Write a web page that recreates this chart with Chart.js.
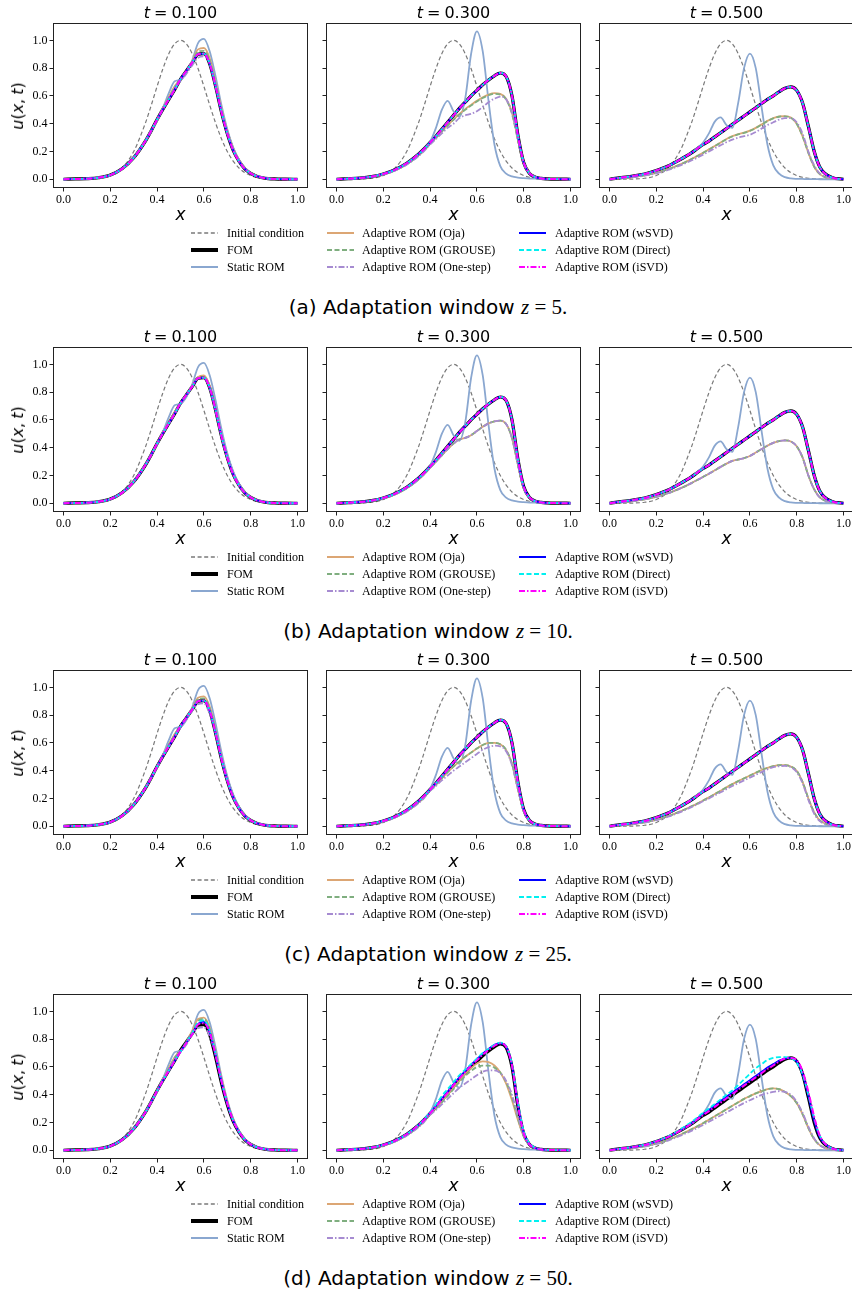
<!DOCTYPE html>
<html><head><meta charset="utf-8">
<script src="https://cdn.jsdelivr.net/npm/chart.js@4/dist/chart.umd.min.js"></script>
<style>
html,body{margin:0;padding:0;background:#fff;}
body{width:852px;height:1290px;position:relative;overflow:hidden;}
canvas{position:absolute;}
.t{position:absolute;white-space:nowrap;color:#000;}
.title{font-family:"DejaVu Sans";font-size:16px;line-height:16px;transform:translateX(-50%);}
.ylab{font-family:"DejaVu Sans";font-size:16px;line-height:16px;transform:translate(-50%,-50%) rotate(-90deg);}
.xlab{font-family:"DejaVu Sans";font-size:17px;line-height:16px;font-style:italic;transform:translate(-50%,-50%);}
.leg{font-family:"Liberation Serif";font-size:12px;line-height:16px;}
.cap{font-family:"DejaVu Sans";font-size:20px;line-height:20px;transform:translateX(-50%);}
.math{font-family:"Liberation Serif";font-size:21px;}
</style></head><body>
<script>
// ---------------- DATA ----------------
const X = [0, 0.05, 0.1, 0.15, 0.2, 0.25, 0.3, 0.35, 0.375, 0.4, 0.425, 0.45, 0.475, 0.5, 0.525, 0.55, 0.575, 0.6, 0.625, 0.65, 0.675, 0.7, 0.725, 0.75, 0.775, 0.8, 0.825, 0.85, 0.875, 0.9, 0.95, 1.0];
const X_TICKS = [0, 0.2, 0.4, 0.6, 0.8, 1.0];
const Y_TICKS = [0, 0.2, 0.4, 0.6, 0.8, 1.0];
const TIMES = ['0.100', '0.300', '0.500'];
const WINDOWS = ['5', '10', '25', '50'];
const LETTERS = ['a', 'b', 'c', 'd'];
const SERIES_NAMES = ['Initial condition', 'FOM', 'Static ROM', 'Adaptive ROM (Oja)', 'Adaptive ROM (GROUSE)', 'Adaptive ROM (One-step)', 'Adaptive ROM (wSVD)', 'Adaptive ROM (Direct)', 'Adaptive ROM (iSVD)'];

const INIT = [0, 0.0003, 0.0016, 0.0072, 0.027, 0.081, 0.200, 0.405, 0.533, 0.669, 0.797, 0.904, 0.975, 1.000, 0.975, 0.904, 0.797, 0.669, 0.533, 0.405, 0.292, 0.200, 0.131, 0.081, 0.048, 0.027, 0.0143, 0.0072, 0.0035, 0.0016, 0.0003, 0];

// t = 0.100
const FOM_T1 = [0, .002, .004, .011, .030, .075, .155, .275, .350, .430, .505, .575, .645, .720, .780, .840, .900, .905, .830, .670, .485, .330, .210, .130, .075, .042, .022, .011, .005, .002, .0003, 0];
const STATIC_T1 = [0, .002, .004, .011, .030, .075, .158, .278, .350, .425, .515, .62, .705, .715, .765, .855, .98, 1.01, .92, .74, .535, .36, .23, .14, .08, .045, .024, .012, .006, .003, .0005, 0];
const OJA_1_T1 = [0, .002, .004, .011, .030, .075, .155, .275, .350, .428, .51, .59, .67, .715, .775, .85, .935, .945, .87, .70, .51, .345, .22, .135, .078, .043, .023, .011, .005, .002, .0003, 0];
const GROUSE_1_T1 = [0, .002, .004, .011, .030, .075, .155, .275, .350, .428, .508, .585, .66, .715, .775, .845, .92, .925, .855, .69, .50, .34, .215, .133, .077, .043, .022, .011, .005, .002, .0003, 0];
const ONESTEP_1_T1 = [0, .002, .004, .011, .030, .074, .153, .272, .347, .425, .503, .578, .655, .708, .76, .82, .875, .885, .84, .685, .50, .335, .214, .132, .076, .042, .022, .011, .005, .002, .0003, 0];
const OJA_2_T1 = [0, .002, .004, .011, .030, .075, .155, .275, .350, .43, .508, .58, .655, .718, .78, .845, .91, .92, .845, .68, .495, .333, .212, .131, .076, .042, .022, .011, .005, .002, .0003, 0];
const OJA_3_T1 = [0, .002, .004, .011, .030, .075, .155, .275, .350, .43, .508, .585, .665, .718, .78, .848, .925, .935, .86, .69, .50, .337, .214, .132, .076, .042, .022, .011, .005, .002, .0003, 0];
const GROUSE_3_T1 = [0, .002, .004, .011, .030, .075, .155, .275, .350, .43, .506, .58, .655, .718, .78, .845, .915, .92, .85, .68, .495, .334, .212, .131, .076, .042, .022, .011, .005, .002, .0003, 0];
const ONESTEP_3_T1 = [0, .002, .004, .011, .030, .074, .153, .273, .348, .427, .503, .575, .65, .71, .77, .83, .88, .885, .81, .68, .495, .333, .212, .131, .076, .042, .022, .011, .005, .002, .0003, 0];
const OJA_4_T1 = [0, .002, .004, .011, .030, .075, .155, .275, .350, .43, .51, .59, .67, .715, .78, .86, .945, .955, .88, .71, .52, .35, .222, .136, .078, .043, .023, .011, .005, .002, .0003, 0];
const GROUSE_4_T1 = [0, .002, .004, .011, .030, .075, .155, .275, .350, .43, .508, .585, .665, .715, .778, .85, .93, .945, .87, .70, .51, .343, .218, .134, .077, .043, .022, .011, .005, .002, .0003, 0];
const ONESTEP_4_T1 = [0, .002, .004, .011, .030, .074, .153, .272, .347, .425, .503, .578, .655, .705, .76, .83, .88, .885, .82, .685, .50, .336, .214, .132, .076, .042, .022, .011, .005, .002, .0003, 0];
const WSVD_4_T1 = [0, .002, .004, .011, .030, .075, .154, .273, .348, .428, .503, .573, .643, .712, .775, .84, .91, .925, .85, .685, .495, .335, .213, .132, .076, .042, .022, .011, .005, .002, .0003, 0];
const DIRECT_4_T1 = [0, .002, .004, .011, .030, .075, .154, .273, .348, .428, .503, .573, .645, .71, .775, .845, .92, .935, .86, .695, .50, .338, .215, .133, .077, .043, .022, .011, .005, .002, .0003, 0];
const ISVD_4_T1 = [0, .002, .004, .011, .030, .075, .154, .273, .348, .428, .503, .573, .643, .71, .772, .835, .905, .915, .85, .685, .50, .337, .214, .132, .076, .042, .022, .011, .005, .002, .0003, 0];

// t = 0.300
const FOM_T3 = [0, .004, .009, .019, .038, .069, .115, .18, .22, .265, .31, .36, .41, .46, .51, .555, .60, .64, .68, .715, .745, .765, .74, .60, .32, .12, .042, .015, .006, .003, .001, 0];
const STATIC_T3 = [0, .004, .009, .019, .038, .069, .115, .18, .22, .27, .37, .50, .565, .49, .45, .58, .90, 1.065, .92, .56, .25, .095, .04, .02, .012, .008, .005, .004, .003, .002, .001, 0];
const OJA_1_T3 = [0, .004, .008, .017, .035, .064, .108, .17, .21, .255, .30, .345, .39, .43, .47, .505, .535, .565, .59, .61, .62, .615, .58, .48, .29, .12, .045, .016, .006, .003, .001, 0];
const GROUSE_1_T3 = [0, .004, .008, .017, .035, .064, .108, .17, .21, .255, .298, .342, .387, .428, .465, .50, .53, .56, .585, .605, .615, .61, .575, .47, .285, .115, .043, .016, .006, .003, .001, 0];
const ONESTEP_1_T3 = [0, .004, .008, .017, .034, .062, .105, .165, .205, .25, .29, .33, .37, .40, .44, .46, .47, .49, .52, .555, .58, .595, .575, .48, .30, .125, .045, .016, .006, .003, .001, 0];
const LOW_2_T3 = [0, .004, .008, .017, .035, .064, .108, .17, .21, .255, .30, .345, .39, .43, .46, .47, .49, .52, .55, .575, .59, .595, .57, .47, .28, .11, .04, .015, .006, .003, .001, 0];
const OJA_3_T3 = [0, .004, .008, .017, .035, .064, .108, .17, .21, .26, .30, .345, .39, .43, .465, .50, .53, .56, .585, .60, .60, .59, .55, .45, .27, .11, .04, .015, .006, .003, .001, 0];
const ONESTEP_3_T3 = [0, .004, .008, .017, .034, .062, .105, .165, .205, .255, .29, .33, .365, .40, .43, .46, .49, .52, .55, .57, .58, .575, .54, .44, .27, .11, .04, .015, .006, .003, .001, 0];
const OJA_4_T3 = [0, .004, .008, .017, .035, .064, .108, .17, .21, .26, .305, .35, .40, .45, .50, .55, .59, .625, .64, .635, .61, .56, .48, .36, .22, .10, .04, .015, .006, .003, .001, 0];
const GROUSE_4_T3 = [0, .004, .008, .017, .035, .064, .108, .17, .21, .26, .30, .345, .39, .44, .49, .535, .57, .60, .61, .61, .595, .56, .49, .38, .23, .10, .04, .015, .006, .003, .001, 0];
const ONESTEP_4_T3 = [0, .004, .008, .017, .034, .062, .105, .165, .205, .255, .29, .33, .37, .41, .45, .48, .51, .54, .565, .575, .575, .555, .50, .40, .25, .11, .04, .015, .006, .003, .001, 0];
const WSVD_4_T3 = [0, .004, .009, .019, .038, .069, .115, .18, .22, .27, .32, .37, .42, .475, .525, .57, .615, .655, .695, .73, .76, .77, .745, .61, .33, .125, .043, .015, .006, .003, .001, 0];
const DIRECT_4_T3 = [0, .004, .009, .019, .038, .069, .116, .182, .225, .275, .33, .39, .44, .49, .54, .58, .62, .66, .70, .73, .76, .775, .75, .62, .35, .14, .05, .018, .007, .003, .001, 0];
const ISVD_4_T3 = [0, .004, .009, .019, .038, .069, .115, .18, .22, .267, .315, .365, .415, .468, .518, .563, .607, .647, .688, .722, .752, .77, .745, .61, .33, .125, .043, .015, .006, .003, .001, 0];

// t = 0.500
const FOM_T5 = [0, .012, .023, .038, .063, .095, .14, .19, .22, .25, .275, .305, .335, .365, .395, .425, .455, .485, .515, .545, .575, .60, .63, .655, .665, .64, .55, .38, .20, .085, .013, 0];
const STATIC_T5 = [0, .012, .023, .038, .063, .095, .14, .19, .225, .265, .33, .415, .445, .39, .37, .55, .80, .905, .80, .52, .25, .10, .04, .015, .006, .003, .002, .001, .001, 0, 0, 0];
const OJA_1_T5 = [0, .008, .016, .028, .046, .072, .105, .145, .167, .19, .215, .24, .265, .29, .31, .325, .335, .35, .37, .395, .42, .44, .452, .455, .445, .40, .31, .19, .09, .035, .006, 0];
const GROUSE_1_T5 = [0, .008, .016, .028, .046, .072, .105, .145, .167, .19, .214, .238, .263, .288, .308, .323, .334, .348, .368, .393, .418, .438, .45, .453, .443, .40, .31, .19, .09, .035, .006, 0];
const ONESTEP_1_T5 = [0, .008, .015, .026, .043, .067, .098, .135, .155, .177, .20, .223, .245, .267, .285, .30, .31, .32, .34, .365, .39, .41, .43, .44, .44, .41, .33, .20, .10, .04, .007, 0];
const LOW_2_T5 = [0, .008, .016, .028, .046, .072, .105, .145, .167, .19, .213, .237, .262, .285, .305, .315, .325, .34, .365, .39, .415, .435, .448, .452, .445, .41, .33, .20, .10, .04, .007, 0];
const OJA_3_T5 = [0, .008, .016, .028, .046, .072, .105, .143, .163, .185, .208, .232, .255, .28, .303, .325, .345, .365, .385, .405, .42, .432, .44, .44, .43, .40, .32, .20, .10, .04, .007, 0];
const ONESTEP_3_T5 = [0, .008, .015, .027, .044, .069, .10, .138, .158, .18, .20, .222, .245, .267, .29, .31, .33, .35, .37, .39, .41, .425, .432, .435, .425, .39, .31, .19, .09, .035, .006, 0];
const OJA_4_T5 = [0, .008, .016, .029, .048, .075, .11, .15, .172, .195, .22, .245, .27, .295, .32, .345, .37, .39, .41, .425, .44, .445, .44, .42, .39, .34, .26, .16, .08, .035, .006, 0];
const ONESTEP_4_T5 = [0, .008, .015, .027, .045, .07, .103, .14, .16, .182, .205, .228, .25, .272, .295, .318, .34, .36, .38, .398, .41, .42, .425, .42, .40, .35, .27, .17, .085, .035, .006, 0];
const WSVD_4_T5 = [0, .012, .023, .038, .063, .095, .142, .195, .227, .26, .29, .322, .354, .385, .415, .445, .475, .505, .535, .565, .595, .62, .645, .66, .665, .64, .55, .39, .21, .09, .014, 0];
const DIRECT_4_T5 = [0, .012, .024, .04, .066, .10, .148, .203, .236, .27, .30, .333, .366, .40, .43, .47, .51, .55, .59, .62, .65, .665, .67, .67, .665, .63, .55, .40, .23, .10, .015, 0];
const ISVD_4_T5 = [0, .012, .023, .038, .063, .095, .14, .19, .222, .254, .282, .312, .343, .374, .405, .435, .465, .495, .525, .555, .585, .61, .64, .66, .665, .65, .57, .42, .24, .10, .015, 0];

// which arrays make up each panel: [Oja, GROUSE, One-step, wSVD, Direct, iSVD]
// (where an adaptive curve coincides with the FOM in the picture, the FOM values are used)
const PANEL_SERIES = [
  [[OJA_1_T1, GROUSE_1_T1, ONESTEP_1_T1, FOM_T1, FOM_T1, FOM_T1],
   [OJA_1_T3, GROUSE_1_T3, ONESTEP_1_T3, FOM_T3, FOM_T3, FOM_T3],
   [OJA_1_T5, GROUSE_1_T5, ONESTEP_1_T5, FOM_T5, FOM_T5, FOM_T5]],
  [[OJA_2_T1, FOM_T1, FOM_T1, FOM_T1, FOM_T1, FOM_T1],
   [LOW_2_T3, LOW_2_T3, LOW_2_T3, FOM_T3, FOM_T3, FOM_T3],
   [LOW_2_T5, LOW_2_T5, LOW_2_T5, FOM_T5, FOM_T5, FOM_T5]],
  [[OJA_3_T1, GROUSE_3_T1, ONESTEP_3_T1, FOM_T1, FOM_T1, FOM_T1],
   [OJA_3_T3, OJA_3_T3, ONESTEP_3_T3, FOM_T3, FOM_T3, FOM_T3],
   [OJA_3_T5, OJA_3_T5, ONESTEP_3_T5, FOM_T5, FOM_T5, FOM_T5]],
  [[OJA_4_T1, GROUSE_4_T1, ONESTEP_4_T1, WSVD_4_T1, DIRECT_4_T1, ISVD_4_T1],
   [OJA_4_T3, GROUSE_4_T3, ONESTEP_4_T3, WSVD_4_T3, DIRECT_4_T3, ISVD_4_T3],
   [OJA_4_T5, OJA_4_T5, ONESTEP_4_T5, WSVD_4_T5, DIRECT_4_T5, ISVD_4_T5]]
];
const FOMS = [FOM_T1, FOM_T3, FOM_T5];
const STATICS = [STATIC_T1, STATIC_T3, STATIC_T5];

// ---------------- STYLE / LAYOUT ----------------
const STYLES = [
  {color: '#7a7a7a', width: 1.2, dash: [4, 2.6]},
  {color: '#000000', width: 3.2, dash: []},
  {color: '#8aa7d0', width: 1.8, dash: []},
  {color: '#dca674', width: 1.8, dash: []},
  {color: '#7fae7f', width: 1.8, dash: [5, 2.5]},
  {color: '#a68bd1', width: 1.8, dash: [6, 2, 1.5, 2]},
  {color: '#0000ff', width: 1.8, dash: []},
  {color: '#00f0f0', width: 1.8, dash: [5, 2.5]},
  {color: '#ff00ff', width: 2.0, dash: [6, 2, 1.5, 2]}
];
const ROW_OFF = [0, 324, 647, 971];
const COL_LEFT = [53, 326, 599];
const FW = 255, FH = 165, FTOP = 23;

const framePlugin = {
  id: 'frame',
  afterDraw(chart) {
    const a = chart.chartArea, ctx = chart.ctx;
    ctx.save();
    ctx.strokeStyle = '#222';
    ctx.lineWidth = 1;
    ctx.setLineDash([]);
    ctx.strokeRect(a.left + 0.5, a.top + 0.5, a.right - a.left - 1, a.bottom - a.top - 1);
    ctx.restore();
  }
};

function addText(cls, html, left, top) {
  const d = document.createElement('div');
  d.className = 't ' + cls;
  d.innerHTML = html;
  d.style.left = left + 'px';
  d.style.top = top + 'px';
  document.body.appendChild(d);
  return d;
}

function makePanel(r, c) {
  const sel = PANEL_SERIES[r][c];
  const arrays = [INIT, FOMS[c], STATICS[c]].concat(sel);
  const frameLeft = COL_LEFT[c], frameTop = FTOP + ROW_OFF[r];
  const padL = c === 0 ? 53 : 12;
  const w = padL + FW + 3, h = 3 + FH + 24;
  const cv = document.createElement('canvas');
  cv.width = w; cv.height = h;
  cv.style.left = (frameLeft - padL) + 'px';
  cv.style.top = (frameTop - 3) + 'px';
  cv.style.width = w + 'px'; cv.style.height = h + 'px';
  document.body.appendChild(cv);
  const tickFont = {family: '"Liberation Serif", "Times New Roman", serif', size: 12};
  new Chart(cv, {
    type: 'line',
    data: {
      datasets: arrays.map((arr, i) => ({
        label: SERIES_NAMES[i],
        data: X.map((x, j) => ({x: x, y: arr[j]})),
        borderColor: STYLES[i].color,
        borderWidth: STYLES[i].width,
        borderDash: STYLES[i].dash,
        pointRadius: 0,
        fill: false,
        cubicInterpolationMode: 'monotone',
        order: 8 - i
      }))
    },
    options: {
      responsive: false, animation: false, devicePixelRatio: 1,
      layout: {padding: {top: 3, right: 3, left: 0, bottom: 0}},
      plugins: {legend: {display: false}, tooltip: {enabled: false}, title: {display: false}},
      scales: {
        x: {
          type: 'linear', min: -0.045, max: 1.045,
          afterBuildTicks: s => { s.ticks = X_TICKS.map(v => ({value: v})); },
          afterFit: s => { s.height = 24; s.paddingLeft = 0; s.paddingRight = 0; },
          ticks: {autoSkip: false, maxRotation: 0, minRotation: 0, padding: 1, color: '#000', font: tickFont,
                  callback: v => Number(v).toFixed(1)},
          grid: {drawOnChartArea: false, drawTicks: true, tickLength: 3.5, color: '#222', lineWidth: 1},
          border: {display: false}
        },
        y: {
          type: 'linear', min: -0.063, max: 1.125,
          afterBuildTicks: s => { s.ticks = Y_TICKS.map(v => ({value: v})); },
          afterFit: s => { s.width = padL; s.paddingTop = 0; s.paddingBottom = 0; },
          ticks: {autoSkip: false, padding: 2, color: c === 0 ? '#000' : 'rgba(0,0,0,0)', font: tickFont,
                  callback: v => Number(v).toFixed(1)},
          grid: {drawOnChartArea: false, drawTicks: true, tickLength: 3.5, color: '#222', lineWidth: 1},
          border: {display: false}
        }
      }
    },
    plugins: [framePlugin]
  });
  addText('title', '<i>t</i>&#8197;=&#8197;' + TIMES[c], frameLeft + FW / 2, frameTop - 18.5);
  addText('xlab', 'x', frameLeft + FW / 2, frameTop + FH + 26);
}

function legendHandle(i) {
  const s = STYLES[i];
  const lw = i === 1 ? 4 : (i === 0 ? 1.3 : 2);
  const dash = s.dash.length ? ` stroke-dasharray="${s.dash.join(',')}"` : '';
  return `<svg width="27" height="8" style="position:absolute;left:0;top:4px"><line x1="0" y1="4" x2="27" y2="4" stroke="${s.color}" stroke-width="${lw}"${dash}/></svg>`;
}

function addLegend(off) {
  const hx = [191, 327, 519], tx = [227, 362, 555], ry = [233, 250, 267];
  for (let i = 0; i < 9; i++) {
    const col = Math.floor(i / 3), row = i % 3;
    const d = document.createElement('div');
    d.style.position = 'absolute';
    d.style.left = hx[col] + 'px';
    d.style.top = (ry[row] + off - 8) + 'px';
    d.style.width = '27px'; d.style.height = '16px';
    d.innerHTML = legendHandle(i);
    document.body.appendChild(d);
    addText('leg', SERIES_NAMES[i], tx[col], ry[row] + off - 8);
  }
}

for (let r = 0; r < 4; r++) {
  for (let c = 0; c < 3; c++) makePanel(r, c);
  const off = ROW_OFF[r];
  addText('ylab', '<i>u</i>(<i>x</i>,&#8197;<i>t</i>)', 17.5, FTOP + off + FH / 2);
  addLegend(off);
  addText('cap', '(' + LETTERS[r] + ') Adaptation window <span class="math"><i>z</i> = ' + WINDOWS[r] + '.</span>', 428, 297 + off);
}
</script>
</body></html>
